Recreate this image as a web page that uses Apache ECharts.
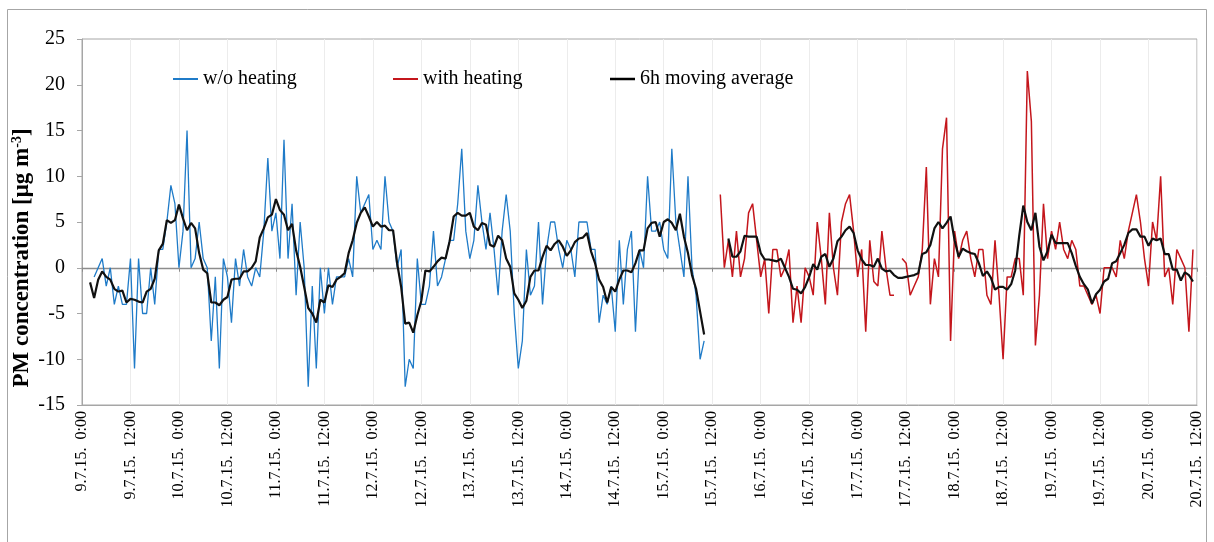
<!DOCTYPE html>
<html><head><meta charset="utf-8">
<script src="https://cdn.jsdelivr.net/npm/echarts@6/dist/echarts.min.js"></script>
<style>html,body{margin:0;padding:0;background:#fff}#c{width:1214px;height:542px}</style>
</head><body><div id="c"></div>
<script>
// hourly categories from 9.7.15 0:00 (index 0) to 20.7.15 12:00 (index 276)
const firstDay = 9;
const hourCount = 277;
const labelEvery = 12;

// w/o heating, starting at hour index 3
const blueStart = 3;
const blueValues = [
  -1, 0, 1, -2, 0, -4, -2, -4, -4, 1,
  -11, 1, -5, -5, 0, -4, 2, 2, 5, 9,
  7, 0, 4, 15, 0, 1, 5, 1, 0, -8,
  -1, -11, 1, -1, -6, 1, -2, 2, -1, -2,
  0, -1, 4, 12, 4, 6, 1, 14, 1, 7,
  -3, 5, 0, -13, -2, -11, 0, -5, 0, -4,
  -1, -1, -1, 1, -1, 10, 6, 7, 8, 2,
  3, 2, 10, 5, 4, 0, 2, -13, -10, -11,
  1, -4, -4, -2, 4, -2, -1, 1, 3, 3,
  7, 13, 4, 1, 3, 9, 5, 2, 6, 2,
  -3, 4, 8, 4, -5, -11, -8, 2, -3, -2,
  5, -4, 2, 5, 5, 2, 0, 3, 2, -1,
  5, 5, 5, 2, 2, -6, -3, -4, -2, -7,
  3, -4, 2, 4, -7, 2, 0, 10, 4, 4,
  5, 2, 1, 13, 5, 2, -1, 10, 0, -3,
  -10, -8
];

// with heating, starting at hour index 158 (null = missing hour)
const redStart = 158;
const redValues = [
  8, 0, 3, -1, 4, -1, 1, 6, 7, 3,
  -1, 1, -5, 2, 2, -1, 0, 2, -6, -2,
  -6, 0, -1, -3, 5, 1, -4, 6, 0, -3,
  5, 7, 8, 4, -1, 2, -7, 3, -1.5, -2,
  4, 0, -3, -3, null, 1, 0.5, -3, -2, -1,
  2, 11, -4, 1, -1, 13, 16.4, -8, 4, 1,
  3, 4, 1, -1, 2, 2, -3, -4, 3, -3,
  -10, -1, -1, 1, 1, -3, 21.5, 16, -8.5, -3,
  7, 1, 4, 2, 5, 2, 1, 3, 2, -2,
  -2, -3, -4, -3, -5, 0, 0, 0, -1, 3,
  1, 4, 6, 8, 5, 1, -2, 5, 3, 10,
  -1, 0, -4, 2, 1, 0, -7, 2
];

// 6h moving average, first part from hour index 2
const avgStartA = 2;
const avgValuesA = [
  -1.6, -3.3, -1.3, -0.4, -1, -1.3, -2.3, -2.6, -2.5, -3.8,
  -3.4, -3.5, -3.7, -3.8, -2.6, -2.3, -1.2, 1.9, 2.6, 5.2,
  4.9, 5.2, 6.9, 5.4, 4.1, 4.9, 4.3, 1.6, -0.2, -0.6,
  -3.8, -3.8, -4.1, -3.5, -3.2, -1.3, -1.2, -1.2, -0.4, -0.4,
  0, 0.7, 3.3, 4.3, 5.5, 5.8, 7.5, 6.3, 5.8, 4.1,
  4.8, 1.9, 0.1, -2.1, -4.4, -5, -6, -3.5, -3.8, -1.9,
  -2.1, -1.3, -1, -0.6, 1.6, 3, 4.9, 6, 6.6, 5.6,
  4.5, 5, 4.5, 4.6, 4.1, 4.1, 0.5, -2.1, -6.1, -6,
  -7.1, -5.2, -3.6, -0.3, -0.4, 0.1, 0.7, 1.1, 1, 2.9,
  5.6, 6, 5.7, 5.7, 6, 4.5, 4.1, 4.9, 4.7, 2.5,
  2.3, 3.5, 3, 1, 0.1, -2.8, -3.5, -4.4, -3.6, -1,
  -0.3, -0.3, 1.2, 2.4, 1.9, 2.6, 3, 2.3, 1.3, 1.9,
  2.8, 3.2, 3.3, 3.8, 1.8, 0.5, -1.3, -2.1, -3.8, -2.1,
  -2.6, -1.3, -0.3, -0.3, -0.5, 0.5, 1.9, 1.9, 4.3, 4.9,
  5, 3.4, 5, 5.3, 4.9, 4.1, 5.9, 3.4, 1.6, -0.8,
  -2.3, -4.8, -7.3
];
// 6h moving average, second part from hour index 160
const avgStartB = 160;
const avgValuesB = [
  3.2, 1.2, 1.2, 1.8, 3.5, 3.4, 3.4, 3.4, 1.6, 0.9,
  0.9, 0.8, 0.7, 1, 0, -1, -2.3, -2.4, -2.8, -2.1,
  -1, 0.4, -0.2, 1.2, 1.5, 0.1, 1, 2.9, 3.4, 4.1,
  4.5, 3.8, 1.9, 0.9, 0.3, 0.3, 0.1, 1, -0.1, -0.4,
  -0.3, -0.8, -1.1, -1.1, -1, -0.9, -0.8, -0.6, 1.5, 1.7,
  2.5, 4.3, 5, 4.3, 4.9, 5.6, 3, 1.2, 2.1, 1.8,
  1.6, 1.5, 0.5, -0.9, -0.4, -1.1, -2.4, -2.1, -2.1, -2.4,
  -1.8, -0.3, 3.5, 6.8, 5, 4.1, 6, 2.3, 0.8, 1.8,
  3.6, 2.7, 2.7, 2.7, 2.7, 1.6, 0.2, -1, -1.8, -2.4,
  -3.9, -2.9, -2.4, -1.5, -1.2, 0.5, 0.7, 1.6, 2.5, 3.8,
  4.2, 4.2, 3.4, 3.4, 2.4, 3.2, 3, 3.2, 1.5, 1.5,
  -0.2, -0.2, -1.4, -0.5, -0.8, -1.5
];

const yMin = -15, yMax = 25, yStep = 5;
const seriesNames = ['w/o heating', 'with heating', '6h moving average'];
const yTitle = '{t|PM concentration [μg m}{s|-3}{t|]}';

function pad(start, values) {
  const out = new Array(hourCount).fill(null);
  values.forEach((v, i) => { out[start + i] = v; });
  return out;
}
const categories = [];
for (let h = 0; h < hourCount; h++) {
  categories.push((firstDay + Math.floor(h / 24)) + '.7.15.  ' + (h % 24) + ':00');
}
const blueData = pad(blueStart, blueValues);
const redData = pad(redStart, redValues);
const avgData = pad(avgStartA, avgValuesA);
avgValuesB.forEach((v, i) => { avgData[avgStartB + i] = v; });

const serif = 'Liberation Serif';
const chart = echarts.init(document.getElementById('c'));
const legendBase = {
  top: 69, padding: 0, icon: 'rect', itemWidth: 25, itemHeight: 2,
  textStyle: { fontFamily: serif, fontSize: 20, color: '#000' }
};
chart.setOption({
  backgroundColor: '#fff',
  animation: false,
  graphic: [{
    type: 'rect', shape: { x: 7.5, y: 9.5, width: 1199, height: 545 },
    style: { fill: 'none', stroke: '#a6a6a6', lineWidth: 1 }, silent: true
  }, {
    type: 'text', x: 22, y: 258, rotation: Math.PI / 2, silent: true,
    style: {
      text: yTitle, align: 'center', verticalAlign: 'middle',
      rich: {
        t: { fontFamily: serif, fontSize: 23, fontWeight: 'bold', fill: '#000' },
        s: { fontFamily: serif, fontSize: 14, fontWeight: 'bold', fill: '#000', verticalAlign: 'top', padding: [0, 0, 10, 0] }
      }
    }
  }],
  legend: [
    Object.assign({}, legendBase, { left: 173, data: [seriesNames[0]] }),
    Object.assign({}, legendBase, { left: 393, data: [seriesNames[1]] }),
    Object.assign({}, legendBase, { left: 610, data: [seriesNames[2]], itemHeight: 2.5 })
  ],
  grid: { left: 82, right: 17, top: 39, bottom: 137, show: true, borderColor: '#a6a6a6', borderWidth: 1, outerBoundsMode: 'none', containLabel: false },
  xAxis: [{
    type: 'category', data: categories, boundaryGap: false,
    axisLine: { onZero: false, lineStyle: { color: '#a6a6a6' } },
    axisTick: { show: false },
    axisLabel: {
      interval: labelEvery - 1, rotate: 90, margin: 6,
      fontFamily: serif, fontSize: 16, color: '#000'
    },
    splitLine: { show: true, interval: labelEvery - 1, lineStyle: { color: '#ececec', width: 1 } }
  }, {
    type: 'category', data: categories, boundaryGap: false, position: 'top',
    axisLine: { onZero: true, onZeroAxisIndex: 0, lineStyle: { color: '#8c8c8c', width: 1.3 } },
    axisTick: { show: true, inside: true, length: 4, interval: labelEvery - 1, lineStyle: { color: '#8c8c8c' } },
    axisLabel: { show: false },
    splitLine: { show: false }
  }],
  yAxis: {
    type: 'value', min: yMin, max: yMax, interval: yStep,
    axisLine: { show: true, lineStyle: { color: '#a6a6a6' } },
    axisTick: { show: true, length: 5, lineStyle: { color: '#a6a6a6' } },
    axisLabel: { fontFamily: serif, fontSize: 20, color: '#000', margin: 17 },
    splitLine: { show: false }
  },
  series: [{
    name: seriesNames[0], type: 'line', data: blueData, showSymbol: false, symbol: 'none',
    connectNulls: false, color: '#1f7bc8', lineStyle: { width: 1.3, color: '#1f7bc8' }, z: 2
  }, {
    name: seriesNames[1], type: 'line', data: redData, showSymbol: false, symbol: 'none',
    connectNulls: false, color: '#c4161c', lineStyle: { width: 1.5, color: '#c4161c' }, z: 3
  }, {
    name: seriesNames[2], type: 'line', data: avgData, showSymbol: false, symbol: 'none',
    connectNulls: false, color: '#000', lineStyle: { width: 2.2, color: '#111' }, z: 4
  }]
});
</script></body></html>
